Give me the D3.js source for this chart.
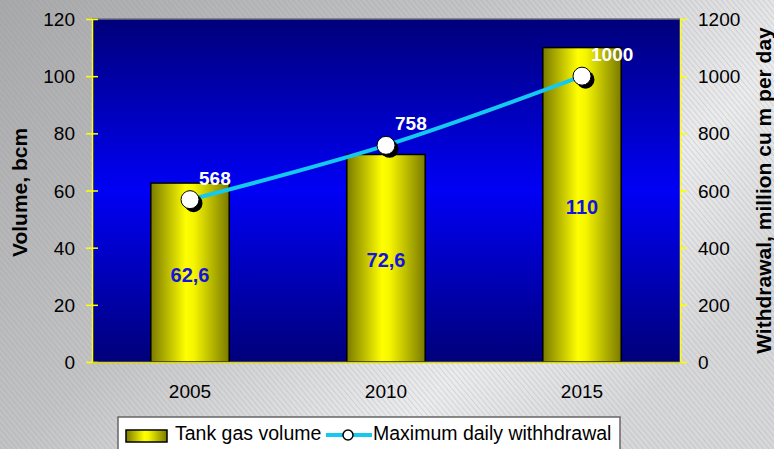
<!DOCTYPE html>
<html>
<head>
<meta charset="utf-8">
<script src="https://cdn.jsdelivr.net/npm/d3@7"></script>
<style>
  body { margin: 0; }
  svg text { font-family: Arial, "Liberation Sans", sans-serif; }
</style>
</head>
<body>
<svg id="chart" width="774" height="449"></svg>
<script>
(function () {
    // data
    var years = ["2005", "2010", "2015"];
    var volume = [62.6, 72.6, 110];          // bcm, left axis
    var volumeLabels = ["62,6", "72,6", "110"];
    var withdrawal = [568, 758, 1000];       // million cu m per day, right axis
    var leftTicks = [0, 20, 40, 60, 80, 100, 120];
    var rightTicks = [0, 200, 400, 600, 800, 1000, 1200];

    var W = 774, H = 449;
    var m = {left: 92, top: 19, right: 94, bottom: 87};
    var width = W - m.left - m.right, height = H - m.top - m.bottom;

    var svg = d3.select("#chart");
    var defs = svg.append("defs");

    // page background: grey hatch fading to light
    var bg = defs.append("linearGradient").attr("id", "bg")
        .attr("x1", "0").attr("y1", "0").attr("x2", "1").attr("y2", "0.6");
    bg.append("stop").attr("offset", "0").attr("stop-color", "#a9a9a9");
    bg.append("stop").attr("offset", "0.45").attr("stop-color", "#c4c4c4");
    bg.append("stop").attr("offset", "0.8").attr("stop-color", "#ececec");
    bg.append("stop").attr("offset", "1").attr("stop-color", "#d8d8d8");
    var hatch = defs.append("pattern").attr("id", "hatch")
        .attr("width", 4).attr("height", 4)
        .attr("patternUnits", "userSpaceOnUse")
        .attr("patternTransform", "rotate(-40)");
    hatch.append("line").attr("x1", 0).attr("y1", 0).attr("x2", 0).attr("y2", 4)
        .attr("stroke", "#8a94b0").attr("stroke-width", 1).attr("stroke-opacity", 0.5);

    svg.append("rect").attr("width", W).attr("height", H).attr("fill", "url(#bg)");
    svg.append("rect").attr("width", W).attr("height", H).attr("fill", "url(#hatch)");

    // plot area gradient (dark navy - blue - dark navy)
    var pg = defs.append("linearGradient").attr("id", "plotbg")
        .attr("x1", 0).attr("y1", 0).attr("x2", 0).attr("y2", 1);
    pg.append("stop").attr("offset", "0").attr("stop-color", "#00007a");
    pg.append("stop").attr("offset", "0.5").attr("stop-color", "#0000f5");
    pg.append("stop").attr("offset", "1").attr("stop-color", "#00007a");

    // bar gradient (olive - yellow - olive)
    var bgr = defs.append("linearGradient").attr("id", "bar")
        .attr("x1", 0).attr("y1", 0).attr("x2", 1).attr("y2", 0);
    bgr.append("stop").attr("offset", "0").attr("stop-color", "#7a7a00");
    bgr.append("stop").attr("offset", "0.45").attr("stop-color", "#ffff00");
    bgr.append("stop").attr("offset", "0.55").attr("stop-color", "#f5f500");
    bgr.append("stop").attr("offset", "1").attr("stop-color", "#7a7a00");

    var x = d3.scaleBand().domain(years).range([0, width]).paddingInner(0.6).paddingOuter(0.3);
    var xc = function (d) { return x(d) + x.bandwidth() / 2; };
    var yL = d3.scaleLinear().domain([0, 120]).range([height, 0]);
    var yR = d3.scaleLinear().domain([0, 1200]).range([height, 0]);

    var chart = svg.append("g").attr("transform", "translate(" + m.left + "," + m.top + ")");

    chart.append("rect").attr("width", width).attr("height", height).attr("fill", "url(#plotbg)");
    chart.append("line").attr("x1", 0).attr("x2", width).attr("y1", 0).attr("y2", 0)
        .attr("stroke", "#707080").attr("stroke-width", 1.5);

    // bars
    chart.append("g").selectAll("rect")
        .data(volume)
        .join("rect")
        .attr("x", function (d, i) { return x(years[i]); })
        .attr("y", function (d) { return yL(d); })
        .attr("width", x.bandwidth())
        .attr("height", function (d) { return height - yL(d); })
        .attr("fill", "url(#bar)")
        .attr("stroke", "#000").attr("stroke-width", 1.5);

    chart.append("g").selectAll("text")
        .data(volume)
        .join("text")
        .attr("x", function (d, i) { return xc(years[i]); })
        .attr("y", function (d) { return (yL(d) + height) / 2 + 9; })
        .attr("text-anchor", "middle")
        .attr("font-size", 20).attr("font-weight", "bold")
        .attr("fill", "#1414dc")
        .text(function (d, i) { return volumeLabels[i]; });

    // axes
    var axL = chart.append("g")
        .call(d3.axisLeft(yL).tickValues(leftTicks).tickSizeInner(6).tickSizeOuter(0).tickPadding(11));
    axL.selectAll(".tick line").attr("x2", 6).attr("x1", -6).attr("stroke", "#ffff00").attr("stroke-width", 1.5);
    axL.select(".domain").attr("stroke", "#ffff00").attr("stroke-width", 1.5);
    axL.selectAll("text").attr("font-size", 19).attr("fill", "#000").attr("dy", "0.35em");

    var axR = chart.append("g").attr("transform", "translate(" + width + ",0)")
        .call(d3.axisRight(yR).tickValues(rightTicks).tickFormat(d3.format("d"))
            .tickSizeInner(7).tickSizeOuter(0).tickPadding(11));
    axR.selectAll(".tick line").attr("stroke", "#ffff00").attr("stroke-width", 1.5);
    axR.select(".domain").attr("stroke", "#ffff00").attr("stroke-width", 1.5);
    axR.selectAll("text").attr("font-size", 19).attr("fill", "#000").attr("dy", "0.35em");

    var axB = chart.append("g").attr("transform", "translate(0," + height + ")")
        .call(d3.axisBottom(x).tickSize(0).tickPadding(23));
    axB.select(".domain").attr("stroke", "#d8d800").attr("stroke-width", 1.5);
    axB.selectAll("text").attr("font-size", 19).attr("fill", "#000");

    // line (smoothed)
    var line = d3.line()
        .x(function (d, i) { return xc(years[i]); })
        .y(function (d) { return yR(d); })
        .curve(d3.curveCatmullRom.alpha(0.5));
    chart.append("path").datum(withdrawal)
        .attr("d", line).attr("fill", "none")
        .attr("stroke", "#14c8f0").attr("stroke-width", 4);

    var pts = chart.append("g").selectAll("g")
        .data(withdrawal)
        .join("g")
        .attr("transform", function (d, i) { return "translate(" + xc(years[i]) + "," + yR(d) + ")"; });
    pts.append("circle").attr("cx", 3.5).attr("cy", 3.5).attr("r", 9).attr("fill", "#000");
    pts.append("circle").attr("r", 9).attr("fill", "#fff").attr("stroke", "#000").attr("stroke-width", 1);

    chart.append("g").selectAll("text")
        .data(withdrawal)
        .join("text")
        .attr("x", function (d, i) { return xc(years[i]) + 9; })
        .attr("y", function (d) { return yR(d) - 15; })
        .attr("font-size", 19).attr("font-weight", "bold")
        .attr("fill", "#fff")
        .text(function (d) { return d; });

    // axis titles
    svg.append("text")
        .attr("transform", "translate(27," + (m.top + height / 2 + 2) + ") rotate(-90)")
        .attr("text-anchor", "middle")
        .attr("font-size", 21).attr("font-weight", "bold")
        .text("Volume, bcm");
    svg.append("text")
        .attr("transform", "translate(771," + (m.top + height / 2) + ") rotate(-90)")
        .attr("text-anchor", "middle")
        .attr("font-size", 21).attr("font-weight", "bold")
        .text("Withdrawal, million cu m per day");

    // legend
    var lg = svg.append("g").attr("transform", "translate(118,417)");
    lg.append("rect").attr("width", 502).attr("height", 40)
        .attr("fill", "#fff").attr("stroke", "#666").attr("stroke-width", 1.5);
    lg.append("rect").attr("x", 8).attr("y", 13).attr("width", 41).attr("height", 12)
        .attr("fill", "url(#bar)").attr("stroke", "#000").attr("stroke-width", 1.5);
    lg.append("text").attr("x", 57).attr("y", 23).attr("font-size", 19.5).text("Tank gas volume");
    lg.append("line").attr("x1", 208).attr("x2", 254).attr("y1", 18).attr("y2", 18)
        .attr("stroke", "#14c8f0").attr("stroke-width", 4);
    lg.append("circle").attr("cx", 230).attr("cy", 18).attr("r", 5)
        .attr("fill", "#fff").attr("stroke", "#000").attr("stroke-width", 1.5);
    lg.append("text").attr("x", 255).attr("y", 23).attr("font-size", 19.5).text("Maximum daily withhdrawal");
})();
</script>
</body>
</html>
